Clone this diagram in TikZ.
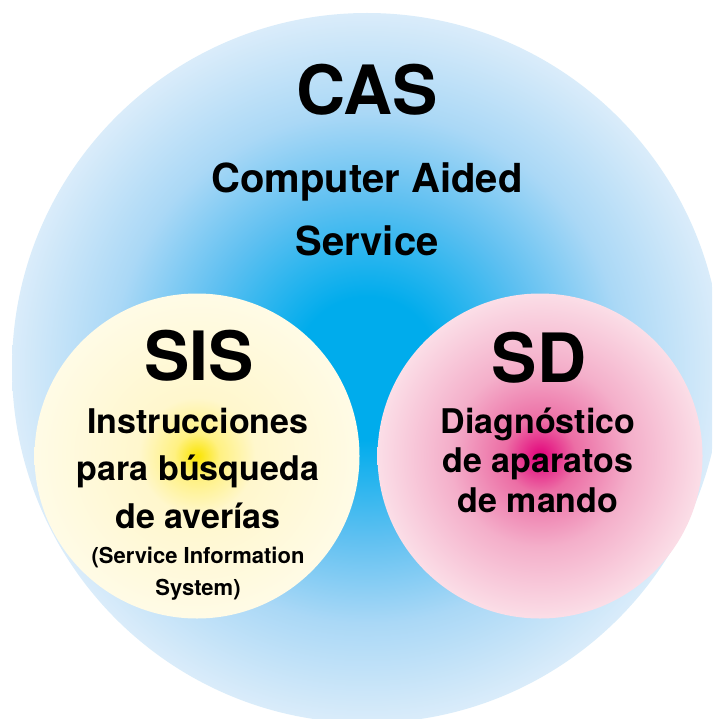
\documentclass[tikz,border=0pt]{standalone}
\usepackage{fontspec}
\setmainfont{TeX Gyre Heros}
\definecolor{casin}{RGB}{0,172,236}
\definecolor{casmid}{RGB}{95,192,241}
\definecolor{caslow}{RGB}{170,216,246}
\definecolor{casout}{RGB}{218,236,250}
\definecolor{sisin}{RGB}{250,228,0}
\definecolor{sismid}{RGB}{255,241,130}
\definecolor{sislow}{RGB}{255,247,205}
\definecolor{sisout}{RGB}{255,251,230}
\definecolor{sdin}{RGB}{226,0,122}
\definecolor{sdmid}{RGB}{236,110,165}
\definecolor{sdlow}{RGB}{244,175,202}
\definecolor{sdout}{RGB}{251,222,231}
\pgfdeclareradialshading{casglow}{\pgfpoint{0bp}{0bp}}{color(0bp)=(casin); color(5bp)=(casin); color(12bp)=(casmid); color(18bp)=(caslow); color(25bp)=(casout); color(50bp)=(casout)}
\pgfdeclareradialshading{sisglow}{\pgfpoint{0bp}{0bp}}{color(0bp)=(sisin); color(3.5bp)=(sismid); color(9bp)=(sislow); color(25bp)=(sisout); color(50bp)=(sisout)}
\pgfdeclareradialshading{sdglow}{\pgfpoint{0bp}{0bp}}{color(0bp)=(sdin); color(5.5bp)=(sdmid); color(14bp)=(sdlow); color(25bp)=(sdout); color(50bp)=(sdout)}
\begin{document}
\begin{tikzpicture}[x=1pt,y=-1pt]
            \tikzstyle{ring} = [circle, draw=none, inner sep=0pt, outer sep=0pt]
            \tikzstyle{ann} = [draw=none, fill=none, inner sep=0pt, anchor=base, align=center]
            \tikzstyle{big} = [font=\fontsize{68}{68}\selectfont\bfseries]
            \tikzstyle{mid} = [font=\fontsize{34}{47.5}\selectfont\bfseries]
            \tikzstyle{small} = [font=\fontsize{22}{32}\selectfont\bfseries]
            \useasboundingbox (0,0) rectangle (712,719);
            \clip (0,0) rectangle (712,719);
            \node[ring, minimum size=710, shading=casglow] (cas) at (367,368) {};
            \node[ring, minimum size=325, shading=sisglow] (sis) at (197,456) {};
            \node[ring, minimum size=325, shading=sdglow] (sd) at (540,456) {};
            \node[ann, big] (castitle) at (367,115) {CAS};
            \node[ann, font=\fontsize{40}{63}\selectfont\bfseries] (casname) at (367,255) {Computer Aided\\Service};
            \node[ann, big] (sistitle) at (199,380) {SIS};
            \node[ann, mid] (sisname) at (198,528) {Instrucciones\\para búsqueda\\de averías};
            \node[ann, small] (sisnote) at (198,595) {(Service Information\\System)};
            \node[ann, big] (sdtitle) at (539,382) {SD};
            \node[ann, font=\fontsize{34}{39.5}\selectfont\bfseries] (sdname) at (538,512) {Diagnóstico\\de aparatos\\de mando};
        \end{tikzpicture}
\end{document}
